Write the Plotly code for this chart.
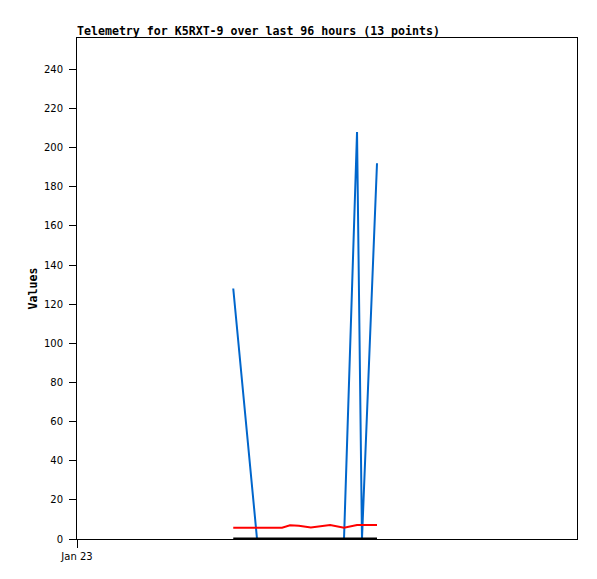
import plotly.graph_objects as go

times = ["2024-01-24 06:00", "2024-01-24 10:34", "2024-01-24 13:04", "2024-01-24 15:22",
         "2024-01-24 16:54", "2024-01-24 18:36", "2024-01-24 20:54", "2024-01-24 22:51",
         "2024-01-25 00:36", "2024-01-25 03:16", "2024-01-25 05:46", "2024-01-25 06:43",
         "2024-01-25 09:36"]
blue_vals = [128, 0, 0, 0, 0, 0, 0, 0, 0, 0, 208, 0, 192]
red_vals = [5.8, 5.8, 5.8, 5.8, 7.0, 6.8, 5.9, 6.5, 7.1, 5.8, 7.1, 7.1, 7.1]
black_vals = [0] * 13

fig = go.Figure()
fig.add_trace(go.Scatter(x=times, y=blue_vals, mode="lines",
                         line=dict(color="#0066CC", width=2), showlegend=False))
fig.add_trace(go.Scatter(x=times, y=red_vals, mode="lines",
                         line=dict(color="#FF0000", width=2), showlegend=False))
fig.add_trace(go.Scatter(x=times, y=black_vals, mode="lines",
                         line=dict(color="#000000", width=3), showlegend=False))

tick_font = dict(family="DejaVu Sans", size=10, color="#000000")

W, H = 589, 571  # page body has an 8px default margin
fig.update_layout(
    width=W, height=H,
    margin=dict(l=69, r=20, t=30, b=40),
    paper_bgcolor="white", plot_bgcolor="white",
    title=dict(text="<b>Telemetry for K5RXT-9 over last 96 hours (13 points)</b>",
               font=dict(family="DejaVu Sans Mono", size=11.6, color="#000000"),
               x=69/W, xanchor="left", xref="container",
               y=1 - 23/H, yanchor="middle", yref="container"),
    xaxis=dict(type="date", range=["2024-01-23 00:00", "2024-01-27 00:00"],
               tickvals=["2024-01-23 00:00"], ticktext=["Jan 23"],
               ticks="outside", ticklen=8, tickcolor="#000000", tickwidth=1,
               showline=True, linecolor="#000000", linewidth=1, mirror=True,
               showgrid=False, zeroline=False, tickfont=tick_font, fixedrange=True),
    yaxis=dict(range=[0, 256], tickvals=list(range(0, 241, 20)),
               ticks="outside", ticklen=7, tickcolor="#000000", tickwidth=1,
               showline=True, linecolor="#000000", linewidth=1, mirror=True,
               showgrid=False, zeroline=False, tickfont=tick_font, ticklabelstandoff=4),
    annotations=[dict(text="<b>Values</b>", textangle=-90, xref="paper", yref="paper",
                      x=(32 - 77) / 500, y=0.5, xanchor="center", yanchor="middle",
                      showarrow=False,
                      font=dict(family="DejaVu Sans Mono", size=11.6, color="#000000"))],
)

fig.write_html("out.html")
